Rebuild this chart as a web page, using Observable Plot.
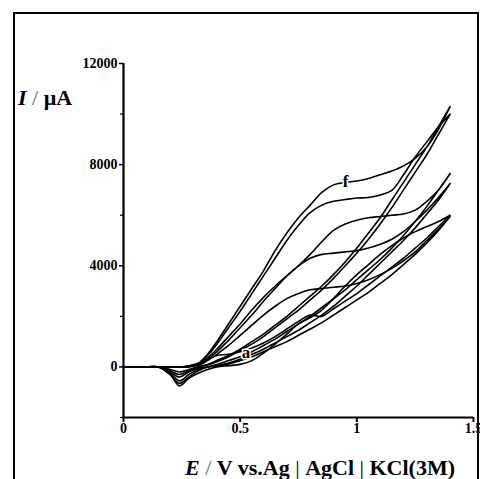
<!DOCTYPE html>
<html>
<head>
<meta charset="utf-8">
<script src="https://cdn.jsdelivr.net/npm/d3@7"></script>
<script src="https://cdn.jsdelivr.net/npm/@observablehq/plot@0.6"></script>
<style>
  html, body { margin: 0; padding: 0; background: #fff; overflow: hidden; }
  #wrap { position: relative; width: 480px; height: 479px; overflow: hidden; background: #fff; }
  #frame { position: absolute; left: 13px; top: 12px; width: 462px; height: 520px; border: 2px solid #000; pointer-events: none; }
</style>
</head>
<body>
<div id="wrap"><div id="chart"></div><div id="frame"></div></div>
<script>
// Potential grid (V vs Ag|AgCl|KCl 3M)
const potentials = [0, 0.1, 0.15, 0.2, 0.24, 0.28, 0.32, 0.36, 0.4, 0.45, 0.5, 0.55, 0.6, 0.65, 0.7, 0.75, 0.8, 0.85, 0.9, 0.95, 1.0, 1.05, 1.1, 1.15, 1.2, 1.25, 1.3, 1.35, 1.4];

// Currents (µA), forward (anodic) and reverse scans for curves a–f
const fForward = [0,0,0,0,0,50,150,500,1000,1700,2400,3100,3800,4600,5300,5900,6400,6900,7200,7300,7350,7450,7600,7750,7950,8250,8700,9400,10300];
const fReverse = [0,0,0,-100,-200,-100,0,100,250,450,700,1000,1300,1650,2000,2400,2800,3200,3650,4150,4700,5300,5900,6600,7300,8000,8700,9500,10300];
const eForward = [0,0,0,0,0,30,120,450,900,1550,2200,2900,3600,4300,5000,5600,6100,6400,6550,6620,6680,6700,6800,6980,7600,8300,8900,9500,10000];
const eReverse = [0,0,0,-150,-300,-150,0,80,200,400,650,900,1200,1550,1900,2250,2650,3050,3500,4000,4500,5050,5650,6300,7000,7700,8400,9200,10000];
const dForward = [0,0,0,0,0,30,100,350,700,1200,1700,2250,2750,3200,3600,4000,4450,4950,5400,5650,5800,5900,5950,6000,6050,6200,6550,7000,7650];
const dReverse = [0,0,0,-200,-400,-200,-50,0,100,250,400,600,850,1100,1400,1700,2000,2350,2700,3050,3450,3850,4250,4700,5200,5750,6350,7000,7650];
const cForward = [0,0,0,0,0,20,80,300,600,1050,1550,2050,2600,3100,3600,4000,4300,4450,4500,4550,4600,4700,4850,5050,5350,5750,6200,6700,7250];
const cReverse = [0,0,0,-250,-550,-300,-100,0,50,150,300,500,700,950,1200,1450,1750,2050,2400,2800,3200,3650,4100,4550,5000,5500,6050,6600,7250];
const bForward = [0,0,0,0,0,20,60,250,500,850,1250,1650,2050,2400,2700,2900,3050,3100,3150,3200,3300,3450,3650,3900,4200,4550,5000,5450,5950];
const bReverse = [0,0,0,-300,-650,-400,-150,0,30,120,250,400,600,800,1000,1250,1500,1750,2050,2350,2650,2950,3300,3650,4050,4450,4900,5400,5950];
const aForward = [0,0,0,-300,-750,-450,-250,-100,0,50,100,250,550,900,1300,1700,1950,2250,2700,3200,3650,4050,4450,4800,5100,5350,5550,5750,6000];
const aReverse = [0,0,0,0,0,0,100,300,450,500,600,750,950,1200,1500,1800,2050,2000,2300,2600,2900,3250,3600,3950,4300,4700,5100,5550,6000];

const curveNames = ["a", "b", "c", "d", "e", "f"];
const forwardScans = [aForward, bForward, cForward, dForward, eForward, fForward];
const reverseScans = [aReverse, bReverse, cReverse, dReverse, eReverse, fReverse];

const xTicks = [0, 0.5, 1, 1.5];
const xTickLabels = ["0", "0.5", "1", "1.5"];
const yTicks = [0, 4000, 8000, 12000];
const yMinorTicks = [-2000, 2000, 6000, 10000];

const curveLabels = [
  {name: "f", E: 0.952, I: 7330},
  {name: "a", E: 0.525, I: 560}
];

// Build closed loops: forward 0 -> 1.4 then reverse 1.4 -> 0
const rows = [];
curveNames.forEach((name, k) => {
  potentials.forEach((E, i) => rows.push({curve: name, E, I: forwardScans[k][i]}));
  for (let i = potentials.length - 1; i >= 0; i--) rows.push({curve: name, E: potentials[i], I: reverseScans[k][i]});
});

const chart = Plot.plot({
  width: 480,
  height: 479,
  marginLeft: 123,
  marginRight: 7,
  marginTop: 63,
  marginBottom: 62,
  x: {domain: [0, 1.5]},
  y: {domain: [-2000, 12000]},
  style: {fontFamily: "'Liberation Serif', serif", fontSize: "14px", fontWeight: "bold", background: "#fff", color: "#000", overflow: "visible"},
  marks: [
    Plot.line(rows, {x: "E", y: "I", z: "curve", stroke: "#000", strokeWidth: 1.6, curve: "catmull-rom"}),
    Plot.ruleX([0], {y1: -2000, y2: 12000, stroke: "#000", strokeWidth: 2.2}),
    Plot.ruleY([-2000], {x1: 0, x2: 1.5, stroke: "#000", strokeWidth: 2.2}),
    Plot.axisX({ticks: xTicks, tickSize: 5, tickPadding: 1, tickFormat: d => xTickLabels[xTicks.indexOf(d)], label: null, strokeWidth: 2}),
    Plot.axisY({ticks: yTicks, tickSize: 4, tickPadding: 2, tickFormat: d => String(d), label: null, strokeWidth: 1.5}),
    Plot.axisY({ticks: yMinorTicks, tickSize: 3, text: null, label: null, strokeWidth: 1.2}),
    Plot.text(curveLabels, {x: "E", y: "I", text: "name", fontSize: 17, fontWeight: "bold", fill: "#000", stroke: "#fff", strokeWidth: 3})
  ]
});
document.getElementById("chart").appendChild(chart);

const svg = d3.select(chart);
const yl = svg.append("text").attr("x", 18).attr("y", 105).attr("text-anchor", "start")
  .attr("font-family", "'Liberation Serif', serif").attr("font-size", 22).attr("font-weight", "bold").attr("fill", "#000");
yl.append("tspan").attr("font-style", "italic").text("I");
yl.append("tspan").attr("font-weight", "normal").attr("fill", "#666").text(" / ");
yl.append("tspan").text("µA");

const xl = svg.append("text").attr("x", 185).attr("y", 475).attr("text-anchor", "start")
  .attr("font-family", "'Liberation Serif', serif").attr("font-size", 22).attr("font-weight", "bold").attr("fill", "#000");
xl.append("tspan").attr("font-style", "italic").text("E");
xl.append("tspan").attr("font-weight", "normal").attr("fill", "#666").text(" / ");
xl.append("tspan").text("V vs.Ag");
xl.append("tspan").attr("font-weight", "normal").text(" | ");
xl.append("tspan").text("AgCl");
xl.append("tspan").attr("font-weight", "normal").text(" | ");
xl.append("tspan").text("KCl(3M)");
</script>
</body>
</html>
